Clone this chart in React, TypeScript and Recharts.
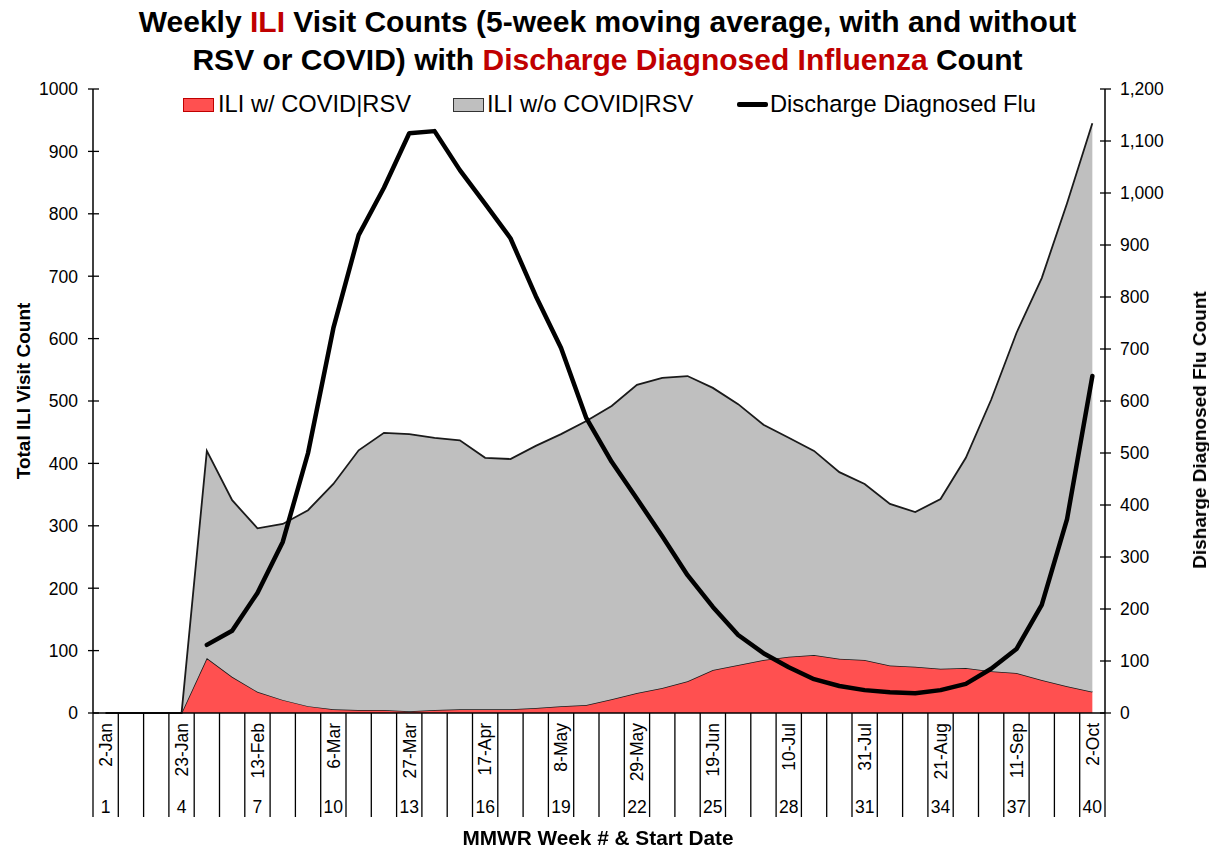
import React from "react";
import { ComposedChart, Area, Line, XAxis, YAxis } from "recharts";

const weeks = [
  1, 2, 3, 4, 5, 6, 7, 8, 9, 10, 11, 12, 13, 14, 15, 16, 17, 18, 19, 20,
  21, 22, 23, 24, 25, 26, 27, 28, 29, 30, 31, 32, 33, 34, 35, 36, 37, 38, 39, 40,
];

const startDates = [
  "2-Jan", "9-Jan", "16-Jan", "23-Jan", "30-Jan", "6-Feb", "13-Feb", "20-Feb",
  "27-Feb", "6-Mar", "13-Mar", "20-Mar", "27-Mar", "3-Apr", "10-Apr", "17-Apr",
  "24-Apr", "1-May", "8-May", "15-May", "22-May", "29-May", "5-Jun", "12-Jun",
  "19-Jun", "26-Jun", "3-Jul", "10-Jul", "17-Jul", "24-Jul", "31-Jul", "7-Aug",
  "14-Aug", "21-Aug", "28-Aug", "4-Sep", "11-Sep", "18-Sep", "25-Sep", "2-Oct",
];

const iliWithCovidRsv = [
  0, 0, 0, 0, 88, 58, 34, 21, 11, 6, 5, 5, 3, 5, 6, 6, 6, 8, 11, 13,
  22, 32, 40, 51, 69, 77, 85, 90, 93, 87, 85, 76, 74, 71, 72, 67, 64, 53, 43, 34,
];

const iliWithoutCovidRsv = [
  0, 0, 0, 0, 332, 283, 262, 282, 314, 361, 416, 444, 444, 436, 431, 403, 401, 420, 436, 455,
  470, 494, 497, 489, 452, 418, 377, 351, 327, 299, 282, 259, 248, 272, 337, 435, 545, 644, 774, 911,
];

const dischargeFlu = [
  null, null, null, null, 131, 158, 231, 329, 500, 740, 919, 1010, 1115, 1119, 1044, 979, 913, 802, 702, 567,
  483, 412, 340, 265, 204, 150, 115, 88, 65, 52, 44, 40, 38, 44, 56, 85, 123, 208, 373, 648,
];

const leftTicks = [0, 100, 200, 300, 400, 500, 600, 700, 800, 900, 1000];
const rightTicks = [0, 100, 200, 300, 400, 500, 600, 700, 800, 900, 1000, 1100, 1200];

const data = weeks.map((w, i) => ({
  week: w,
  withCR: iliWithCovidRsv[i],
  withoutCR: iliWithoutCovidRsv[i],
  flu: dischargeFlu[i],
}));

const W = 1209;
const H = 849;
const PLOT_LEFT = 93;
const PLOT_RIGHT = 1105;
const PLOT_TOP = 89;
const PLOT_BOTTOM = 713;
const BAND = (PLOT_RIGHT - PLOT_LEFT) / weeks.length;
const FONT = "Arial, 'Liberation Sans', sans-serif";

const XTick = (props: any) => {
  const { x, payload } = props;
  const i = props.index ?? payload.index;
  const left = x - BAND / 2;
  return (
    <g>
      <line x1={left} x2={left} y1={PLOT_BOTTOM} y2={817} stroke="#000" strokeWidth={1.3} />
      {i === weeks.length - 1 && (
        <line x1={left + BAND} x2={left + BAND} y1={PLOT_BOTTOM} y2={817} stroke="#000" strokeWidth={1.3} />
      )}
      {i % 3 === 0 && (
        <>
          <text
            transform={`translate(${x},${723}) rotate(-90)`}
            textAnchor="end"
            dy="0.36em"
            fontSize={17.5}
            fontFamily={FONT}
            fill="#000"
          >
            {startDates[i]}
          </text>
          <text x={x} y={813} textAnchor="middle" fontSize={17.5} fontFamily={FONT} fill="#000">
            {payload.value}
          </text>
        </>
      )}
    </g>
  );
};

const LeftTick = (props: any) => {
  const { y, payload } = props;
  return (
    <g>
      <line x1={PLOT_LEFT - 5} x2={PLOT_LEFT + 6} y1={y} y2={y} stroke="#000" strokeWidth={1.3} />
      <text x={78} y={y} dy="0.36em" textAnchor="end" fontSize={17.5} fontFamily={FONT} fill="#000">
        {payload.value}
      </text>
    </g>
  );
};

const RightTick = (props: any) => {
  const { y, payload } = props;
  return (
    <g>
      <line x1={PLOT_RIGHT - 5} x2={PLOT_RIGHT + 6} y1={y} y2={y} stroke="#000" strokeWidth={1.3} />
      <text x={1120} y={y} dy="0.36em" textAnchor="start" fontSize={17.5} fontFamily={FONT} fill="#000">
        {payload.value.toLocaleString("en-US")}
      </text>
    </g>
  );
};

const rotated = (cx: number, cy: number): React.CSSProperties => ({
  position: "absolute",
  left: cx,
  top: cy,
  transform: "translate(-50%, -50%) rotate(-90deg)",
  whiteSpace: "nowrap",
  fontFamily: FONT,
  fontWeight: "bold",
  fontSize: 19,
});

const legendText: React.CSSProperties = {
  position: "absolute",
  top: 90,
  fontFamily: FONT,
  fontSize: 23.7,
  lineHeight: "28px",
  whiteSpace: "nowrap",
};

const App = () => {
  return (
    <div style={{ position: "fixed", left: 0, top: 0, width: W, height: H, background: "#fff" }}>
      <div
        style={{
          position: "absolute",
          left: 0,
          top: 3,
          width: W,
          textAlign: "center",
          fontFamily: FONT,
          fontWeight: "bold",
          fontSize: 30,
          lineHeight: "38px",
          color: "#000",
          paddingLeft: 6,
          boxSizing: "border-box",
          whiteSpace: "nowrap",
        }}
      >
        <div>
          Weekly <span style={{ color: "#C00000" }}>ILI</span> Visit Counts (5-week moving average, with and without
        </div>
        <div>
          RSV or COVID) with <span style={{ color: "#C00000" }}>Discharge Diagnosed Influenza</span> Count
        </div>
      </div>

      <div style={{ position: "absolute", left: 0, top: 0 }}>
        <ComposedChart
          width={W}
          height={H}
          data={data}
          margin={{ top: PLOT_TOP, right: 0, left: 0, bottom: 0 }}
        >
          <XAxis
            dataKey="week"
            type="category"
            scale="band"
            interval={0}
            height={H - PLOT_BOTTOM}
            tickLine={false}
            axisLine={{ stroke: "#000", strokeWidth: 1.5 }}
            tick={<XTick />}
          />
          <YAxis
            yAxisId="left"
            orientation="left"
            width={PLOT_LEFT}
            domain={[0, 1000]}
            ticks={leftTicks}
            interval={0}
            tickLine={false}
            axisLine={{ stroke: "#000", strokeWidth: 1.5 }}
            tick={<LeftTick />}
          />
          <YAxis
            yAxisId="right"
            orientation="right"
            width={W - PLOT_RIGHT}
            domain={[0, 1200]}
            ticks={rightTicks}
            interval={0}
            tickLine={false}
            axisLine={{ stroke: "#000", strokeWidth: 1.5 }}
            tick={<RightTick />}
          />
          <Area
            yAxisId="left"
            type="linear"
            dataKey="withCR"
            stackId="ili"
            fill="#FF5050"
            fillOpacity={1}
            stroke="#1a1a1a"
            strokeWidth={1.5}
            isAnimationActive={false}
          />
          <Area
            yAxisId="left"
            type="linear"
            dataKey="withoutCR"
            stackId="ili"
            fill="#BFBFBF"
            fillOpacity={1}
            stroke="#1a1a1a"
            strokeWidth={1.8}
            isAnimationActive={false}
          />
          <Line
            yAxisId="right"
            type="linear"
            dataKey="flu"
            stroke="#000"
            strokeWidth={4.5}
            strokeLinecap="round"
            strokeLinejoin="round"
            dot={false}
            activeDot={false}
            isAnimationActive={false}
          />
        </ComposedChart>
      </div>

      {/* legend */}
      <div style={{ position: "absolute", left: 183, top: 98, width: 29, height: 12, background: "#FF5050", border: "1.5px solid #C00000" }} />
      <div style={{ ...legendText, left: 218 }}>ILI w/ COVID|RSV</div>
      <div style={{ position: "absolute", left: 453, top: 98, width: 29, height: 12, background: "#BFBFBF", border: "1.5px solid #333" }} />
      <div style={{ ...legendText, left: 487 }}>ILI w/o COVID|RSV</div>
      <div style={{ position: "absolute", left: 737, top: 102, width: 31, height: 4.5, background: "#000", borderRadius: 2 }} />
      <div style={{ ...legendText, left: 770 }}>Discharge Diagnosed Flu</div>

      {/* axis titles */}
      <div style={rotated(24, 391)}>Total ILI Visit Count</div>
      <div style={rotated(1200, 430)}>Disharge Diagnosed Flu Count</div>
      <div
        style={{
          position: "absolute",
          left: 598,
          top: 838,
          transform: "translate(-50%, -50%)",
          whiteSpace: "nowrap",
          fontFamily: FONT,
          fontWeight: "bold",
          fontSize: 20.8,
        }}
      >
        MMWR Week # &amp; Start Date
      </div>
    </div>
  );
};

export default App;
